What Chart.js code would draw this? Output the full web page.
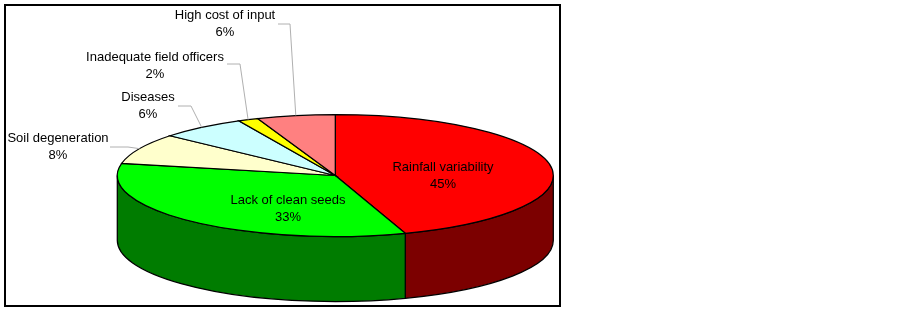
<!DOCTYPE html>
<html>
<head>
<meta charset="utf-8">
<style>
  html, body { margin: 0; padding: 0; background: #fff; }
  canvas { display: block; }
</style>
<script src="https://cdn.jsdelivr.net/npm/chart.js@4/dist/chart.umd.min.js"></script>
</head>
<body>
<canvas id="chart-pie" width="903" height="309"></canvas>
<script>
  const categories = ["Rainfall variability", "Lack of clean seeds", "Soil degeneration", "Diseases", "Inadequate field officers", "High cost of input"];
  const shares = [44.8, 33.4, 8.1, 6.4, 1.5, 5.8];
  const topColors = ["#ff0000", "#00ff00", "#ffffcc", "#ccffff", "#ffff00", "#ff8080"];
  const sideColors = ["#7c0000", "#007c00", "#7c7c66", "#667c7c", "#7c7c00", "#7c4040"];

  // where each label sits (centre of first line) and the elbow of its leader, null = inside the slice
  const labelSpots = [[443, 167], [288, 200], [58, 138], [148, 97], [155, 57], [225, 15]];
  const leaderElbows = [null, null, [128, 147], [191, 106], [240, 64], [290, 24]];
  const leaderStarts = [null, null, [110, 147], [178, 106], [227, 64], [278, 24]];

  const PIE = { cx: 335.3, cy: 175.5, rx: 218, ry: 61, depth: 65 };

  const pie3d = {
    id: "pie3d",
    beforeDraw(chart) {
      const ctx = chart.ctx;
      ctx.save();
      ctx.fillStyle = "#fff";
      ctx.fillRect(0, 0, chart.width, chart.height);
      ctx.strokeStyle = "#000";
      ctx.lineWidth = 2;
      ctx.strokeRect(5, 5, 555, 301);
      ctx.restore();
    },
    beforeDatasetsDraw(chart) {
      const ctx = chart.ctx;
      const arcs = chart.getDatasetMeta(0).data;
      ctx.lineWidth = 1.25;
      ctx.strokeStyle = "#000";

      // front wall, only the part between 3 and 9 o'clock shows
      arcs.forEach((arc, i) => {
        const lo = Math.max(arc.startAngle, 0);
        const hi = Math.min(arc.endAngle, Math.PI);
        if (lo >= hi) return;
        ctx.beginPath();
        ctx.ellipse(PIE.cx, PIE.cy, PIE.rx, PIE.ry, 0, lo, hi);
        ctx.ellipse(PIE.cx, PIE.cy + PIE.depth, PIE.rx, PIE.ry, 0, hi, lo, true);
        ctx.closePath();
        ctx.fillStyle = sideColors[i];
        ctx.fill();
        ctx.stroke();
      });

      // top face: the library's arcs squashed onto the ellipse
      arcs.forEach((arc) => {
        const R = arc.outerRadius;
        ctx.save();
        ctx.translate(PIE.cx, PIE.cy);
        ctx.scale(PIE.rx / R, PIE.ry / R);
        ctx.translate(-arc.x, -arc.y);
        arc.draw(ctx, chart.chartArea);
        ctx.restore();
        ctx.beginPath();
        ctx.moveTo(PIE.cx, PIE.cy);
        ctx.ellipse(PIE.cx, PIE.cy, PIE.rx, PIE.ry, 0, arc.startAngle, arc.endAngle);
        ctx.closePath();
        ctx.stroke();
      });

      // leaders and labels
      ctx.font = "13px 'Liberation Sans', Arial, sans-serif";
      ctx.textAlign = "center";
      ctx.textBaseline = "middle";
      ctx.lineWidth = 1;
      arcs.forEach((arc, i) => {
        if (leaderElbows[i]) {
          const mid = (arc.startAngle + arc.endAngle) / 2;
          ctx.beginPath();
          ctx.moveTo(leaderStarts[i][0], leaderStarts[i][1]);
          ctx.lineTo(leaderElbows[i][0], leaderElbows[i][1]);
          ctx.lineTo(PIE.cx + PIE.rx * Math.cos(mid), PIE.cy + PIE.ry * Math.sin(mid));
          ctx.strokeStyle = "#b0b0b0";
          ctx.stroke();
        }
        ctx.fillStyle = "#000";
        ctx.fillText(categories[i], labelSpots[i][0], labelSpots[i][1]);
        ctx.fillText(Math.round(shares[i]) + "%", labelSpots[i][0], labelSpots[i][1] + 17.5);
      });
      return false;
    },
  };

  new Chart(document.getElementById("chart-pie"), {
    type: "pie",
    data: {
      labels: categories,
      datasets: [{ data: shares, backgroundColor: topColors, borderWidth: 0 }],
    },
    options: {
      responsive: false,
      animation: false,
      plugins: { legend: { display: false }, tooltip: { enabled: false } },
    },
    plugins: [pie3d],
  });
</script>
</body>
</html>
